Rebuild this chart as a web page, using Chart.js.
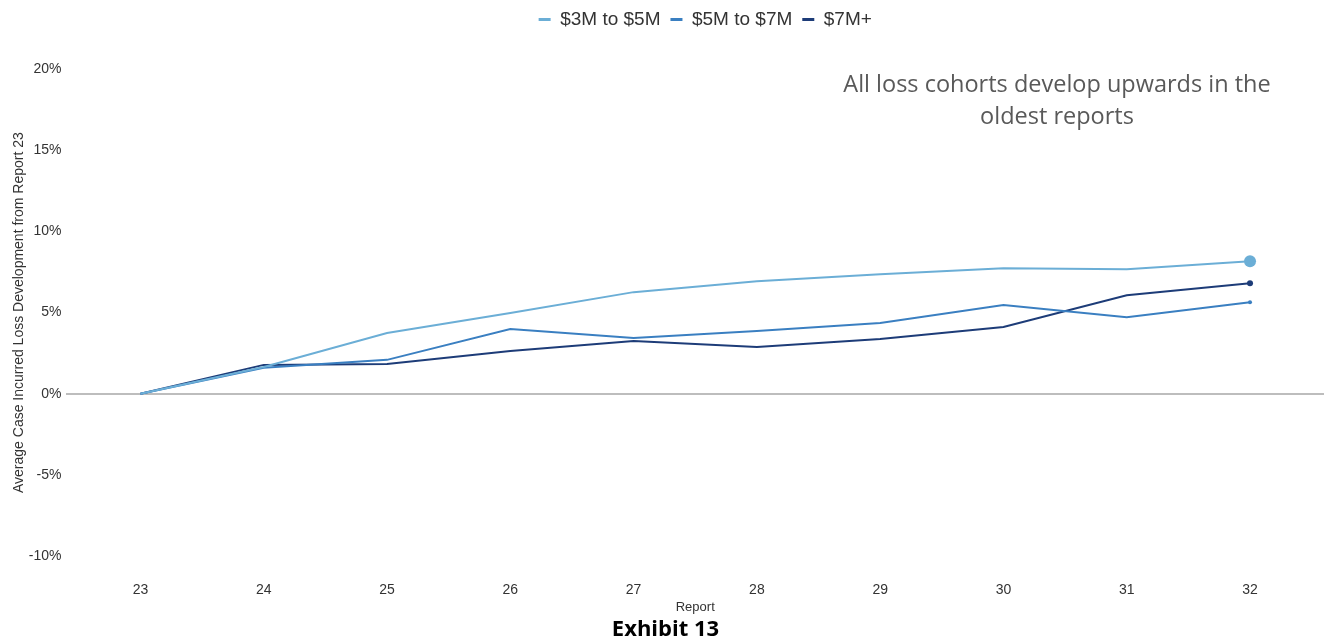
<!DOCTYPE html>
<html>
<head>
<meta charset="utf-8">
<script src="https://cdn.jsdelivr.net/npm/chart.js@4"></script>
<style>
  html, body { margin: 0; padding: 0; background: #fff; }
  #wrap { width: 1330px; height: 644px; }
</style>
</head>
<body>
<div id="wrap"><canvas id="grafico"></canvas></div>
<script>
// reports on the x axis
const reports = [23, 24, 25, 26, 27, 28, 29, 30, 31, 32];

// development vs report 23, in %
const cohort3to5 = [0, 1.65, 3.74, 4.97, 6.26, 6.93, 7.36, 7.73, 7.67, 8.16];
const cohort5to7 = [0, 1.60, 2.09, 3.99, 3.44, 3.87, 4.36, 5.46, 4.72, 5.64];
const cohort7plus = [0, 1.78, 1.84, 2.64, 3.25, 2.88, 3.37, 4.11, 6.07, 6.81];

const yTicks = [-10, -5, 0, 5, 10, 15, 20];

const nota = ["All loss cohorts develop upwards in the", "oldest reports"];

function pontos(valores) {
    return reports.map((r, i) => ({ x: r, y: valores[i] }));
}

// only the last point of each line gets a marker
function raioFinal(r) {
    return reports.map((_, i) => i === reports.length - 1 ? r : 0);
}

function serie(label, valores, cor, raio) {
    return {
        label: label,
        data: pontos(valores),
        borderColor: cor,
        backgroundColor: cor,
        borderWidth: 2,
        pointRadius: raioFinal(raio),
        pointHoverRadius: raioFinal(raio),
        pointBorderWidth: 0,
        tension: 0
    };
}

// legend: extra room underneath, centred over the plot area
const ajusteLegenda = {
    id: "ajusteLegenda",
    beforeLayout(chart) {
        let leg = chart.legend;
        if (leg && !leg._ajustada) {
            let fitOriginal = leg.fit.bind(leg);
            leg.fit = function () {
                fitOriginal();
                this.height += 30;
            };
            leg._ajustada = true;
        }
    },
    afterLayout(chart) {
        chart.legend.left = chart.chartArea.left + 10;
        chart.legend.right = chart.chartArea.right + 10;
    }
};

// text note in the upper right
const textoNota = {
    id: "textoNota",
    afterDraw(chart) {
        let ctx = chart.ctx;
        ctx.save();
        ctx.font = "23.5px 'Open Sans'";
        ctx.fillStyle = "#595959";
        ctx.textAlign = "center";
        ctx.textBaseline = "middle";
        ctx.fillText(nota[0], 1057, 85);
        ctx.fillText(nota[1], 1057, 117);
        ctx.restore();
    }
};

let ctx = document.getElementById("grafico").getContext("2d");

let grafico = new Chart(ctx, {
    type: "line",
    data: {
        datasets: [
            serie("$3M to $5M", cohort3to5, "#6baed6", 6),
            serie("$5M to $7M", cohort5to7, "#3a7fc1", 2),
            serie("$7M+", cohort7plus, "#1d3c78", 3)
        ]
    },
    plugins: [ajusteLegenda, textoNota],
    options: {
        responsive: true,
        maintainAspectRatio: false,
        animation: false,
        layout: { padding: { top: 0, right: 3, left: 4, bottom: 0 } },
        plugins: {
            legend: {
                position: "top",
                labels: {
                    font: { family: "'Liberation Sans'", size: 19 },
                    color: "#333",
                    boxWidth: 12,
                    boxHeight: 3,
                    padding: 10,
                    generateLabels(chart) {
                        return chart.data.datasets.map((d, i) => ({
                            text: d.label,
                            fillStyle: d.borderColor,
                            strokeStyle: d.borderColor,
                            lineWidth: 0,
                            fontColor: "#333",
                            datasetIndex: i
                        }));
                    }
                }
            },
            title: {
                display: true,
                position: "bottom",
                text: "Exhibit 13",
                color: "#000",
                font: { family: "'Open Sans'", size: 22, weight: "bold" },
                padding: { top: 1, bottom: 1 }
            },
            tooltip: { enabled: false }
        },
        scales: {
            x: {
                type: "linear",
                min: 22.4,
                max: 32.6,
                afterBuildTicks(axis) {
                    axis.ticks = reports.map(v => ({ value: v }));
                },
                grid: { display: false, drawTicks: false },
                border: { display: false },
                ticks: {
                    padding: 26,
                    color: "#333",
                    font: { family: "'Liberation Sans'", size: 14 },
                    callback: v => String(v)
                },
                title: {
                    display: true,
                    text: "Report",
                    color: "#333",
                    font: { family: "'Liberation Sans'", size: 13 },
                    padding: { top: -25, bottom: 0 }
                }
            },
            y: {
                min: -10,
                max: 20,
                afterBuildTicks(axis) {
                    axis.ticks = yTicks.map(v => ({ value: v }));
                },
                grid: {
                    drawTicks: false,
                    lineWidth: 2,
                    color: c => c.tick && c.tick.value === 0 ? "#bdbdbd" : "transparent"
                },
                border: { display: false },
                ticks: {
                    padding: 5,
                    color: "#333",
                    font: { family: "'Liberation Sans'", size: 14 },
                    callback: v => v + "%"
                },
                title: {
                    display: true,
                    text: "Average Case Incurred Loss Development from Report 23",
                    color: "#333",
                    font: { family: "'Liberation Sans'", size: 14 },
                    padding: { top: 7, bottom: -4 }
                }
            }
        }
    }
});
</script>
</body>
</html>
